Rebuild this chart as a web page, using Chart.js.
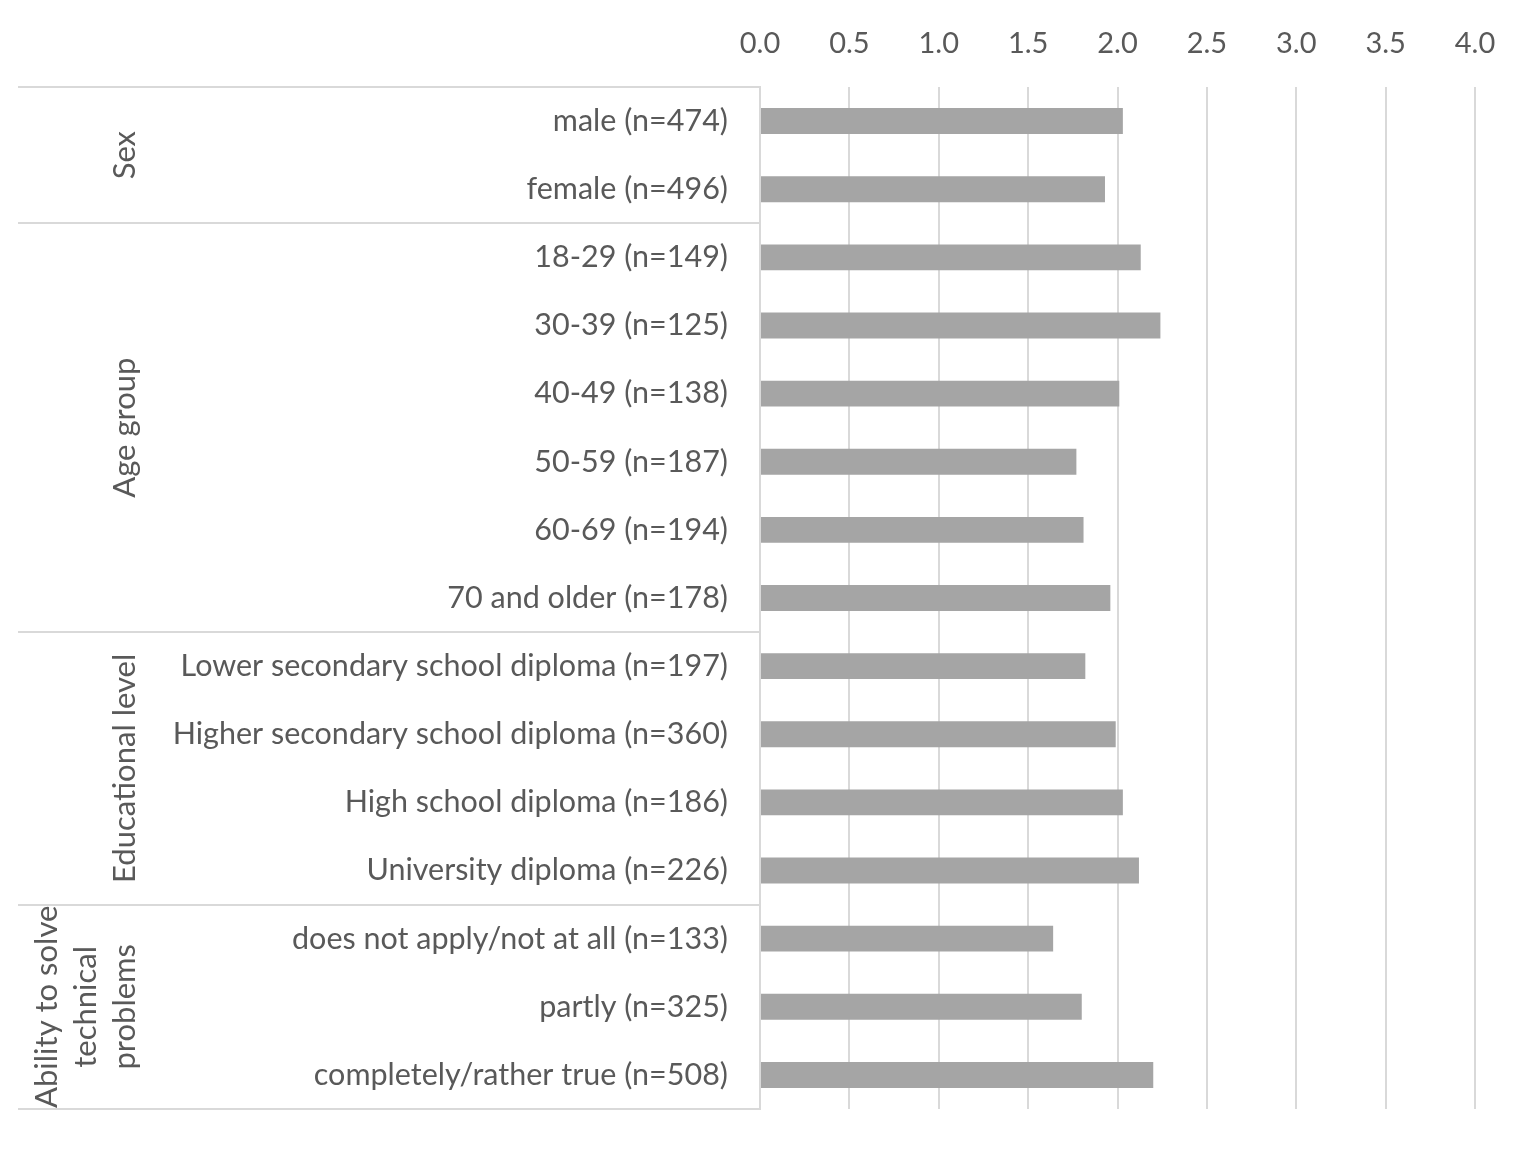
<!DOCTYPE html>
<html>
<head>
<meta charset="utf-8">
<script src="https://cdn.jsdelivr.net/npm/chart.js@4.4.1/dist/chart.umd.min.js"></script>
<style>
  body { margin: 0; background: #fff; }
  #wrap { width: 1537px; height: 1150px; }
</style>
</head>
<body>
<div id="wrap"><canvas id="ScoreCanvas" width="1537" height="1150"></canvas></div>
<script>
var categoryLabels = [
    "male (n=474)",
    "female (n=496)",
    "18-29 (n=149)",
    "30-39 (n=125)",
    "40-49 (n=138)",
    "50-59 (n=187)",
    "60-69 (n=194)",
    "70 and older (n=178)",
    "Lower secondary school diploma (n=197)",
    "Higher secondary school diploma (n=360)",
    "High school diploma (n=186)",
    "University diploma (n=226)",
    "does not apply/not at all (n=133)",
    "partly (n=325)",
    "completely/rather true (n=508)"
];
var meanValues = [2.03, 1.93, 2.13, 2.24, 2.01, 1.77, 1.81, 1.96, 1.82, 1.99, 2.03, 2.12, 1.64, 1.80, 2.20];
var groupTitles = [["Sex"], ["Age group"], ["Educational level"], ["Ability to solve", "technical", "problems"]];
var groupSizes = [2, 6, 4, 3];
var axisMin = 0, axisMax = 4, axisStep = 0.5;

var textColor = "#595959";
var lineColor = "#d9d9d9";

// group titles and separators left of the bars
var groupPlugin = {
    id: "groupLabels",
    afterDraw: function (chart) {
        var ctx = chart.ctx;
        var yScale = chart.scales.y;
        var area = chart.chartArea;
        var start = 0;
        var edges = [area.top];
        ctx.save();
        groupSizes.forEach(function (size, g) {
            var end = start + size - 1;
            var bottom = (end === categoryLabels.length - 1) ? area.bottom
                : (yScale.getPixelForValue(end) + yScale.getPixelForValue(end + 1)) / 2;
            var top = edges[edges.length - 1];
            edges.push(bottom);
            var mid = (top + bottom) / 2;
            var lines = groupTitles[g];
            ctx.fillStyle = textColor;
            ctx.font = "31px Lato";
            ctx.textAlign = "center";
            ctx.textBaseline = "middle";
            lines.forEach(function (line, i) {
                var x = 125 - (lines.length - 1 - i) * 39;
                ctx.save();
                ctx.translate(x, mid);
                ctx.rotate(-Math.PI / 2);
                ctx.fillText(line, 0, 0);
                ctx.restore();
            });
            start += size;
        });
        ctx.strokeStyle = lineColor;
        ctx.lineWidth = 2;
        edges.forEach(function (y) {
            ctx.beginPath();
            ctx.moveTo(18, Math.round(y));
            ctx.lineTo(area.left, Math.round(y));
            ctx.stroke();
        });
        ctx.restore();
    }
};

new Chart(document.getElementById("ScoreCanvas"), {
    type: "bar",
    data: {
        labels: categoryLabels,
        datasets: [{
            data: meanValues,
            backgroundColor: "#a5a5a5",
            borderWidth: 0,
            barPercentage: 0.38,
            categoryPercentage: 1.0
        }]
    },
    options: {
        indexAxis: "y",
        responsive: false,
        animation: false,
        layout: { padding: { top: 0, right: 62, bottom: 41, left: 0 } },
        plugins: {
            legend: { display: false },
            tooltip: { enabled: false }
        },
        scales: {
            x: {
                position: "top",
                min: axisMin,
                max: axisMax,
                afterFit: function (scale) { scale.height = 87; },
                ticks: {
                    stepSize: axisStep,
                    color: textColor,
                    padding: 26,
                    font: { family: "Lato", size: 29 },
                    callback: function (v) { return Number(v).toFixed(1); }
                },
                grid: { color: lineColor, lineWidth: 2, drawTicks: false },
                border: { display: false }
            },
            y: {
                afterFit: function (scale) { scale.width = 760; },
                ticks: {
                    color: textColor,
                    padding: 0,
                    font: { family: "Lato", size: 30.5 }
                },
                // invisible tick marks keep the labels clear of the axis
                grid: { drawOnChartArea: false, drawTicks: true, tickLength: 32, color: "rgba(0,0,0,0)" },
                border: { display: true, color: lineColor, width: 2 }
            }
        }
    },
    plugins: [groupPlugin]
});
</script>
</body>
</html>
